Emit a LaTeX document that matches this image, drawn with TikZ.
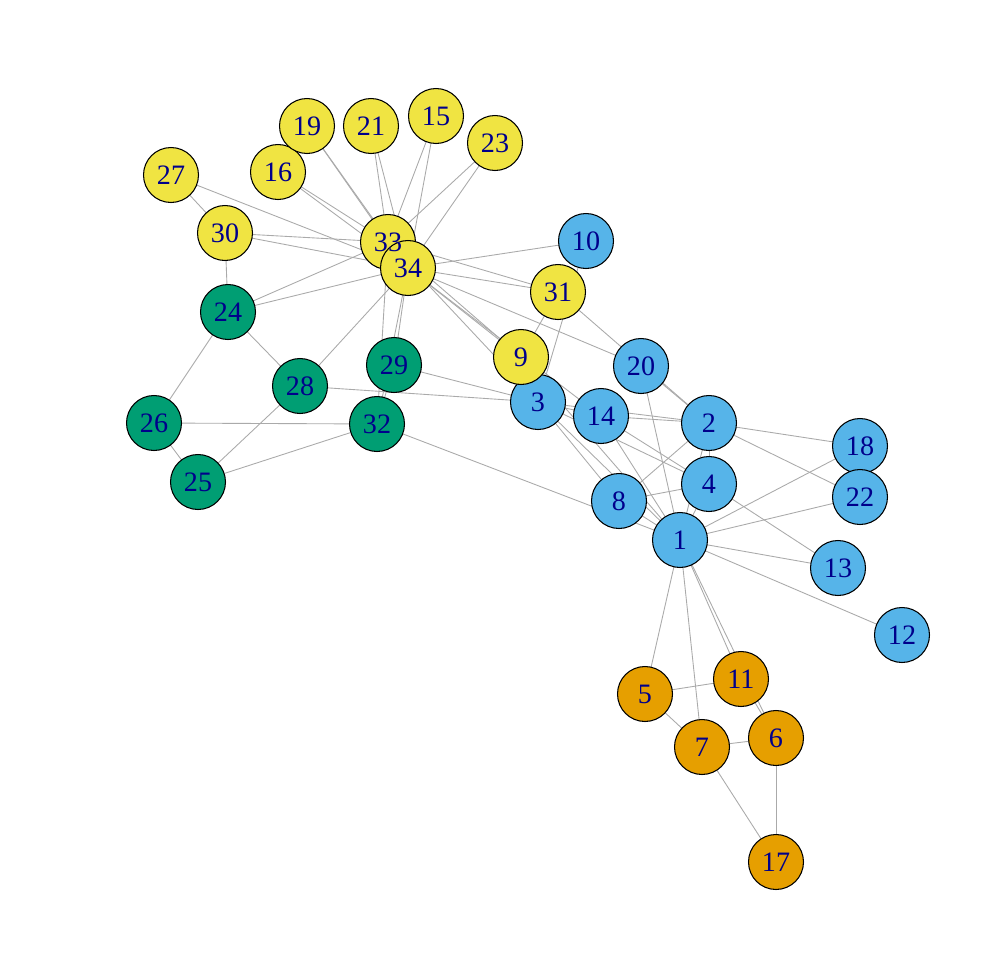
\documentclass[tikz,border=0pt]{standalone}
\usepackage{fontspec}
\setmainfont{Liberation Serif}
\usepackage{xcolor}
\definecolor{clyellow}{HTML}{F0E442}
\definecolor{clblue}{HTML}{56B4E9}
\definecolor{clgreen}{HTML}{009E73}
\definecolor{clorange}{HTML}{E69F00}
\definecolor{lblblue}{HTML}{00008B}
\definecolor{edgegray}{HTML}{AAAAAA}

\begin{document}
\begin{tikzpicture}[x=0.02cm, y=-0.02cm,
    vert/.style={circle, draw=black, line width=0.6pt, minimum size=1.1cm, inner sep=0pt},
    vlabel/.style={text=lblblue, font=\fontsize{16}{16}\selectfont, inner sep=0pt},
    tie/.style={draw=edgegray, line width=0.5pt}
]
\useasboundingbox (0,0) rectangle (995,967);
% vertex positions
\foreach \n/\x/\y in {1/680/540, 2/709/423, 3/538/402, 4/709/484, 5/645/694,
    6/776/738, 7/702/747, 8/619/501, 9/521/357, 10/586/241, 11/741/679,
    12/902/635, 13/838/568, 14/601/416, 15/436/116, 16/278/172, 17/776/862,
    18/860/446, 19/307/126, 20/641/366, 21/371/126, 22/860/497, 23/495/143,
    24/228/312, 25/198/482, 26/154/423, 27/171/175, 28/300/386, 29/394/365,
    30/225/233, 31/558/292, 32/377/424, 33/388/242, 34/408/268}
  \coordinate (p\n) at (\x,\y);
% ties
\foreach \a/\b in {1/2,1/3,1/4,1/5,1/6,1/7,1/8,1/9,1/11,1/12,1/13,1/14,1/18,1/20,1/22,1/32,
    2/3,2/4,2/8,2/14,2/18,2/20,2/22,2/31,
    3/4,3/8,3/9,3/10,3/14,3/28,3/29,3/33,
    4/8,4/13,4/14, 5/7,5/11, 6/7,6/11,6/17, 7/17,
    9/31,9/33,9/34, 10/34, 14/34, 15/33,15/34, 16/33,16/34, 19/33,19/34,
    20/34, 21/33,21/34, 23/33,23/34,
    24/26,24/28,24/30,24/33,24/34, 25/26,25/28,25/32, 26/32,
    27/30,27/34, 28/34, 29/32,29/34, 30/33,30/34, 31/33,31/34,
    32/33,32/34, 33/34}
  \draw[tie] (p\a) -- (p\b);
% vertices
\foreach \n/\c in {1/clblue, 2/clblue, 3/clblue, 4/clblue, 5/clorange, 6/clorange,
    7/clorange, 8/clblue, 9/clyellow, 10/clblue, 11/clorange, 12/clblue, 13/clblue,
    14/clblue, 15/clyellow, 16/clyellow, 17/clorange, 18/clblue, 19/clyellow,
    20/clblue, 21/clyellow, 22/clblue, 23/clyellow, 24/clgreen, 25/clgreen,
    26/clgreen, 27/clyellow, 28/clgreen, 29/clgreen, 30/clyellow, 31/clyellow,
    32/clgreen, 33/clyellow, 34/clyellow}
  \node[vert, fill=\c] (v\n) at (p\n) {};
% labels on top
\foreach \n in {1,...,34}
  \node[vlabel] (l\n) at (v\n) {\n};
\end{tikzpicture}
\end{document}
